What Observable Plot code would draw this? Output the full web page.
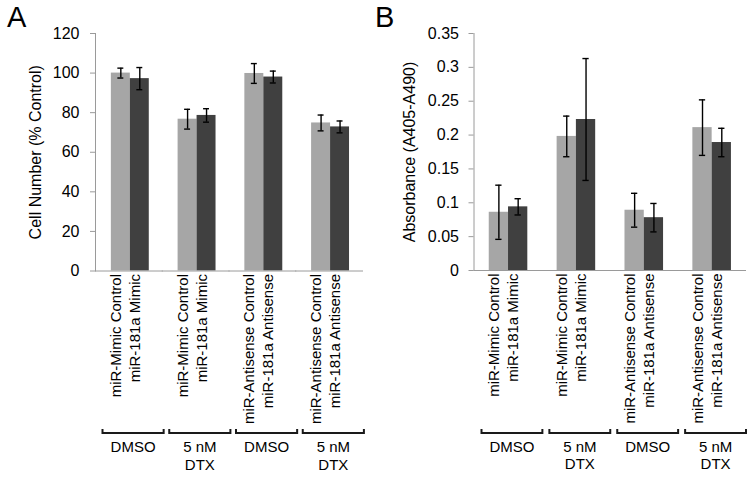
<!DOCTYPE html>
<html><head><meta charset="utf-8">
<script src="https://cdn.jsdelivr.net/npm/d3@7"></script>
<script src="https://cdn.jsdelivr.net/npm/@observablehq/plot@0.6"></script>
<style>
body{margin:0;background:#fff;font-family:"Liberation Sans",Arial,sans-serif;}
#wrap{position:relative;width:754px;height:477px;display:flex;}
.letter{position:absolute;top:3px;font-size:29px;line-height:1;color:#000;}
</style></head><body>
<div id="wrap"><div id="a"></div><div id="b"></div>
<div class="letter" style="left:7px">A</div><div class="letter" style="left:375px">B</div></div>
<script>
const groups = ["g1","g2","g3","g4"];
const groupLabels = ["DMSO","5 nM\nDTX","DMSO","5 nM\nDTX"];
const series = ["control","mir181a"];
const barLabels = [
  ["miR-Mimic Control","miR-181a Mimic"],
  ["miR-Mimic Control","miR-181a Mimic"],
  ["miR-Antisense Control","miR-181a Antisense"],
  ["miR-Antisense Control","miR-181a Antisense"]
];
const cellValues = [[100, 97.2],[76.7, 78.6],[99.8, 98.0],[74.8, 72.8]];
const cellErrors = [[2.5, 5.6],[5.0, 3.4],[5.0, 3.0],[4.0, 3.0]];
const absValues = [[0.086, 0.094],[0.198, 0.223],[0.089, 0.078],[0.211, 0.189]];
const absErrors = [[0.040, 0.012],[0.030, 0.090],[0.025, 0.021],[0.041, 0.021]];
const cellTicks = [0, 20, 40, 60, 80, 100, 120];
const absTicks = [0, 0.05, 0.1, 0.15, 0.2, 0.25, 0.3, 0.35];
const colors = ["#a6a6a6", "#404040"];

function panel(values, errors, ticks, yLabel, o) {
  const rows = [];
  groups.forEach((g, i) => series.forEach((s, j) => rows.push({
    group: g, series: s, label: barLabels[i][j], value: values[i][j], error: errors[i][j]
  })));
  const gRows = groups.map((g, i) => ({group: g, label: groupLabels[i]}));
  const W = 377, H = 477;
  const frameBottom = H - o.mb;
  const facetW = (W - o.ml - o.mr) / groups.length;
  const bw = facetW - o.bl - o.br;
  return Plot.plot({
    width: W, height: H,
    marginLeft: o.ml, marginRight: o.mr, marginTop: o.mt, marginBottom: o.mb,
    style: {fontFamily: '"Liberation Sans", Arial, sans-serif', fontSize: "16px", color: "#000", background: "#fff", overflow: "visible"},
    fx: {domain: groups, padding: 0, round: false, axis: null},
    x: {domain: series, paddingInner: 0, paddingOuter: 0.76, align: o.align, round: false, axis: null},
    y: {domain: [ticks[0], ticks[ticks.length - 1]], axis: null},
    color: {domain: series, range: colors},
    marks: [
      Plot.barY(rows, {fx: "group", x: "series", y: "value", fill: "series"}),
      Plot.ruleX(rows, {fx: "group", x: "series", y1: d => d.value - d.error, y2: d => d.value + d.error, stroke: "#000", strokeWidth: 1.4}),
      Plot.tickY(rows, {fx: "group", x: "series", y: d => d.value - d.error, insetLeft: 6.5, insetRight: 6.5, stroke: "#000", strokeWidth: 1.4}),
      Plot.tickY(rows, {fx: "group", x: "series", y: d => d.value + d.error, insetLeft: 6.5, insetRight: 6.5, stroke: "#000", strokeWidth: 1.4}),
      Plot.frame({anchor: "bottom", stroke: "#9a9a9a"}),
      Plot.frame({anchor: "left", stroke: "#9a9a9a", facetAnchor: "left"}),
      Plot.axisY({ticks: ticks, tickFormat: d3.format("~g"), tickSize: 5, tickPadding: o.tp, stroke: "#9a9a9a", fill: "#000", fontSize: 16,
        label: yLabel, labelAnchor: "center", labelOffset: o.lo, labelArrow: "none"}),
      Plot.text(rows, {fx: "group", x: "series", frameAnchor: "bottom", text: "label", rotate: -90, textAnchor: "end", dy: 3, fontSize: 15, fill: "#000"}),
      Plot.frame({insetTop: o.bt - o.mt, insetBottom: -(o.bb - frameBottom), insetLeft: o.bl, insetRight: o.br,
        stroke: "#1a1a1a", strokeWidth: 2, strokeDasharray: `0 ${bw} 1000`}),
      Plot.text(gRows, {fx: "group", text: "label", frameAnchor: "bottom", lineAnchor: "top", dy: 168.5, dx: (o.bl - o.br) / 2, fontSize: 15, lineHeight: 1.18, fill: "#000"})
    ]
  });
}

document.getElementById("a").append(panel(cellValues, cellErrors, cellTicks, "Cell Number (% Control)",
  {ml: 95, mr: 15, mt: 33, mb: 206.5, align: 0.55, tp: 11, lo: 66, bt: 428.5, bb: 432.5, bl: 7, br: -1.4}));
document.getElementById("b").append(panel(absValues, absErrors, absTicks, "Absorbance (A405-A490)",
  {ml: 96.5, mr: 9, mt: 33, mb: 207, align: 0.52, tp: 10, lo: 70, bt: 428.5, bb: 432.5, bl: 7.5, br: -0.5}));
</script>
</body></html>
